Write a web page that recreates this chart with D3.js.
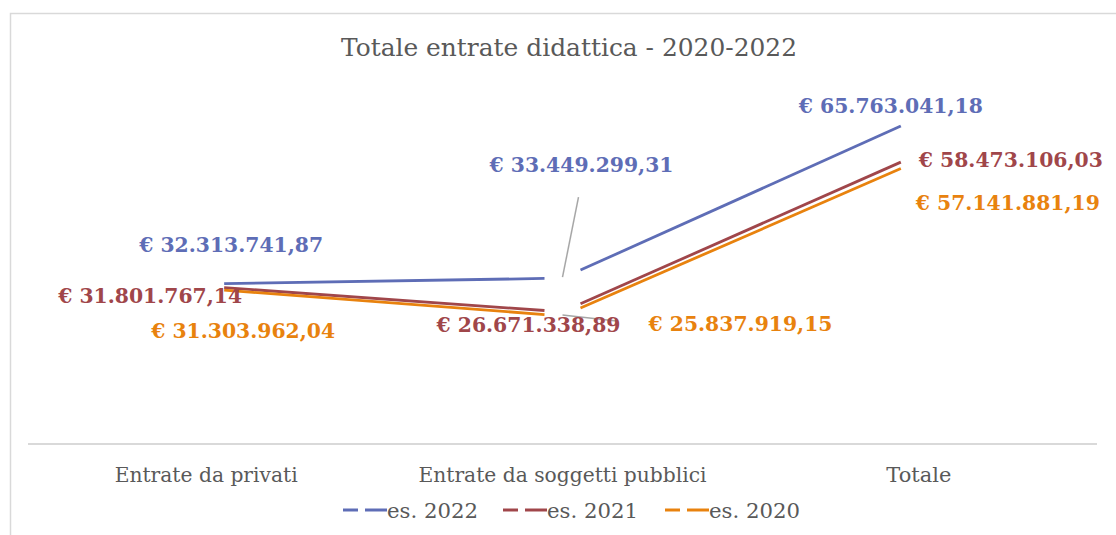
<!DOCTYPE html>
<html>
<head>
<meta charset="utf-8">
<script src="https://cdn.jsdelivr.net/npm/d3@7"></script>
<style>
  html, body { margin: 0; padding: 0; background: #fff; }
  svg { display: block; }
  text { font-family: "DejaVu Serif", "Liberation Serif", serif; }
</style>
</head>
<body>
<svg id="chart" width="1116" height="535"></svg>
<script>
// Categories and yearly series (euro)
const categories = ["Entrate da privati", "Entrate da soggetti pubblici", "Totale"];
const seriesNames = ["es. 2022", "es. 2021", "es. 2020"];
const values2022 = [32313741.87, 33449299.31, 65763041.18];
const values2021 = [31801767.14, 26671338.89, 58473106.03];
const values2020 = [31303962.04, 25837919.15, 57141881.19];
const seriesColors = ["#5E6DB6", "#A0464A", "#E8820E"];
const chartTitle = "Totale entrate didattica - 2020-2022";

const series = [
  { name: seriesNames[0], values: values2022, color: seriesColors[0] },
  { name: seriesNames[1], values: values2021, color: seriesColors[1] },
  { name: seriesNames[2], values: values2020, color: seriesColors[2] }
];

const svg = d3.select("#chart");
const W = 1116, H = 535;

// outer chart frame (cropped at right and bottom)
svg.append("rect")
  .attr("x", 10.5).attr("y", 13.5)
  .attr("width", W + 20).attr("height", H + 20)
  .attr("fill", "#fff").attr("stroke", "#D9D9D9").attr("stroke-width", 1.5);

const x = d3.scalePoint().domain(categories).range([28, 1097]).padding(0.5);
const y = d3.scaleLinear().domain([0, 70000000]).range([444, 97]);

// text helper: fit to a given width
function fit(sel, w) {
  sel.attr("textLength", w).attr("lengthAdjust", "spacingAndGlyphs");
  return sel;
}

// title
fit(svg.append("text")
  .attr("x", 569).attr("y", 56)
  .attr("text-anchor", "middle")
  .attr("font-size", 24.5)
  .attr("fill", "#595959")
  .text(chartTitle), 456);

// category axis line
svg.append("line")
  .attr("x1", x.range()[0]).attr("x2", x.range()[1])
  .attr("y1", y(0)).attr("y2", y(0))
  .attr("stroke", "#D9D9D9").attr("stroke-width", 2);

// category labels
const catWidths = [183, 288, 65];
categories.forEach((c, i) => {
  fit(svg.append("text")
    .attr("x", x(c)).attr("y", 482)
    .attr("text-anchor", "middle")
    .attr("font-size", 19.5)
    .attr("fill", "#595959")
    .text(c), catWidths[i]);
});

// lines: each segment is trimmed near the category points
const trim = 18;
const lineGen = d3.line();
series.forEach(s => {
  const pts = s.values.map((v, i) => [x(categories[i]), y(v)]);
  for (let i = 0; i < pts.length - 1; i++) {
    const [x0, y0] = pts[i], [x1, y1] = pts[i + 1];
    const t0 = trim / (x1 - x0), t1 = 1 - trim / (x1 - x0);
    const a = [x0 + (x1 - x0) * t0, y0 + (y1 - y0) * t0];
    const b = [x0 + (x1 - x0) * t1, y0 + (y1 - y0) * t1];
    svg.append("path")
      .attr("d", lineGen([a, b]))
      .attr("fill", "none")
      .attr("stroke", s.color)
      .attr("stroke-width", 2.8)
      .attr("stroke-linecap", "butt");
  }
});

// leader lines for the middle labels
const leaderColor = "#A6A6A6";
const pBlue = [x(categories[1]), y(values2022[1])];
svg.append("line")
  .attr("x1", pBlue[0]).attr("y1", pBlue[1] - 1)
  .attr("x2", pBlue[0] + 16).attr("y2", pBlue[1] - 81)
  .attr("stroke", leaderColor).attr("stroke-width", 1.5);
const pOrange = [x(categories[1]), y(values2020[1])];
svg.append("line")
  .attr("x1", pOrange[0]).attr("y1", pOrange[1] - 1)
  .attr("x2", pOrange[0] + 54).attr("y2", pOrange[1] + 5)
  .attr("stroke", leaderColor).attr("stroke-width", 1.5);

// data labels
const it = d3.formatLocale({ decimal: ",", thousands: ".", grouping: [3], currency: ["€ ", ""] });
const fmt = it.format("$,.2f");
// label offsets (center x, baseline) from each point, per series and category
const labelOffsets = [
  [[25, -32], [19, -106], [-28, -5]],
  [[-56, 17], [-34, 20], [92, 13]],
  [[37, 49], [178, 15], [89, 49]]
];
series.forEach((s, si) => {
  s.values.forEach((v, i) => {
    const px = x(categories[i]), py = y(v);
    const [dx, dy] = labelOffsets[si][i];
    fit(svg.append("text")
      .attr("x", px + dx).attr("y", py + dy)
      .attr("text-anchor", "middle")
      .attr("font-size", 20.5)
      .attr("font-weight", "bold")
      .attr("fill", s.color)
      .text(fmt(v)), 184);
  });
});

// legend
const legendY = 510;
const legendStarts = [343, 503, 665];
series.forEach((s, i) => {
  const x0 = legendStarts[i];
  const g = svg.append("g");
  g.append("line").attr("x1", x0).attr("x2", x0 + 15)
    .attr("y1", legendY).attr("y2", legendY)
    .attr("stroke", s.color).attr("stroke-width", 3);
  g.append("line").attr("x1", x0 + 22).attr("x2", x0 + 44)
    .attr("y1", legendY).attr("y2", legendY)
    .attr("stroke", s.color).attr("stroke-width", 3);
  fit(g.append("text")
    .attr("x", x0 + 44).attr("y", legendY + 8)
    .attr("font-size", 19.5)
    .attr("fill", "#595959")
    .text(s.name), 91);
});
</script>
</body>
</html>
